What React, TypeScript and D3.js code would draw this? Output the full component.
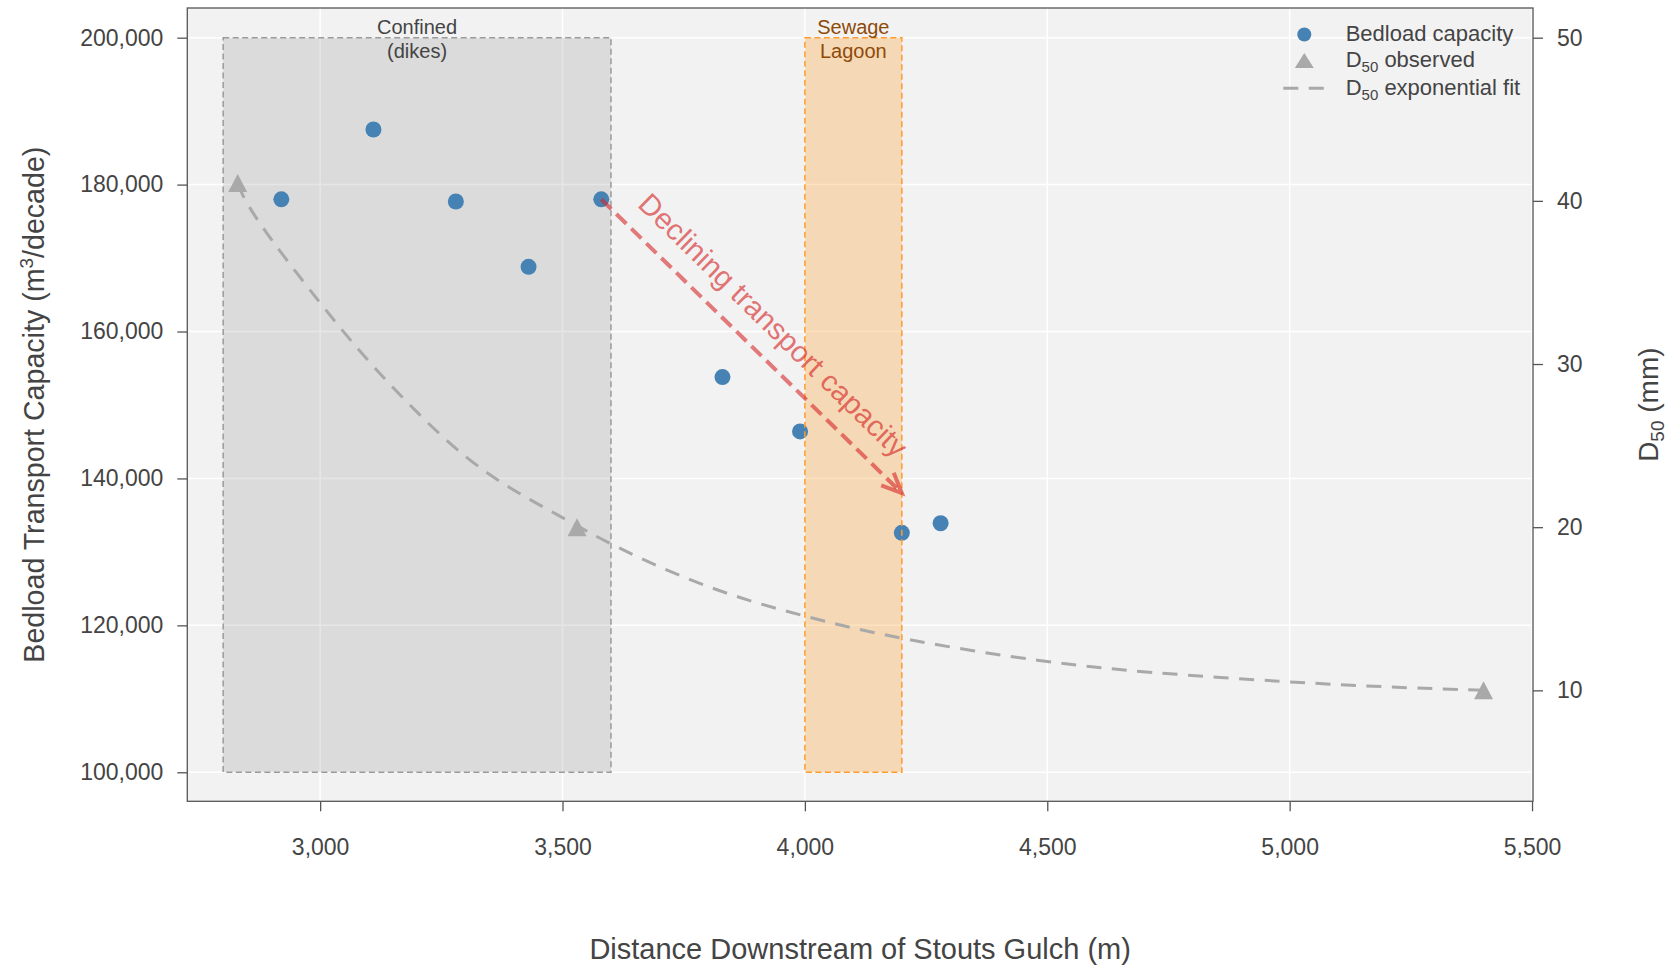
import React, { useRef, useEffect } from 'react';
import * as d3 from 'd3';

const WIDTH = 1673;
const HEIGHT = 971;
const FONT = '"Liberation Sans", Arial, Helvetica, sans-serif';

// bedload transport capacity (m3/decade) vs distance downstream (m)
const bedloadDistance = [2920, 3110, 3280, 3430, 3580, 3830, 3990, 4200, 4280];
const bedloadCapacity = [178000, 187500, 177700, 168800, 178000, 153800, 146400, 132600, 133900];

// observed D50 (mm)
const d50Distance = [2830, 3530, 5400];
const d50Observed = [41.1, 20.0, 10.0];

// exponential fit curve
const fitDistance = [2830, 2860, 3000, 3100, 3200, 3300, 3400, 3500, 3600, 3800, 4000, 4200, 4500, 4700, 5000, 5200, 5400];
const fitD50 = [41.0, 39.1, 33.7, 30.1, 27.0, 24.2, 22.2, 20.6, 18.9, 16.2, 14.5, 13.1, 11.7, 11.1, 10.5, 10.2, 10.0];

const xTicks = [3000, 3500, 4000, 4500, 5000, 5500];
const leftTicks = [100000, 120000, 140000, 160000, 180000, 200000];
const rightTicks = [10, 20, 30, 40, 50];

// reach zones
const confinedZone = { x0: 2800, x1: 3600, y0: 100000, y1: 200000, label: ['Confined', '(dikes)'] };
const lagoonZone = { x0: 4000, x1: 4200, y0: 100000, y1: 200000, label: ['Sewage', 'Lagoon'] };

// trend annotation
const trendFrom = { x: 3580, y: 178000 };
const trendTo = { x: 4200, y: 138000 };
const trendLabel = { x: 3935, y: 160900, text: 'Declining transport capacity' };

export default function App() {
  const svgRef = useRef<SVGSVGElement>(null);

  useEffect(() => {
    document.body.style.margin = '0';
    const svg = d3.select(svgRef.current);
    svg.selectAll('*').remove();

    const left = 187.3;
    const right = 1533;
    const top = 8;
    const bottom = 801.3;

    const x = d3.scaleLinear().domain([2726, 5502]).range([left, right]);
    const yL = d3.scaleLinear().domain([96050, 204040]).range([bottom, top]);
    const yR = d3.scaleLinear().domain([3.2, 51.82]).range([bottom, top]);

    const textColor = '#444';
    const axisColor = '#555';

    // plot background
    svg
      .append('rect')
      .attr('x', left)
      .attr('y', top)
      .attr('width', right - left)
      .attr('height', bottom - top)
      .attr('fill', '#f2f2f2');

    // grid
    const grid = svg.append('g').attr('stroke', '#fff').attr('stroke-width', 1.5);
    grid
      .selectAll('line.v')
      .data(xTicks)
      .join('line')
      .attr('x1', (d) => x(d))
      .attr('x2', (d) => x(d))
      .attr('y1', top)
      .attr('y2', bottom);
    grid
      .selectAll('line.h')
      .data(leftTicks)
      .join('line')
      .attr('class', 'h')
      .attr('x1', left)
      .attr('x2', right)
      .attr('y1', (d) => yL(d))
      .attr('y2', (d) => yL(d));

    // zone fills
    svg
      .append('rect')
      .attr('x', x(confinedZone.x0))
      .attr('y', yL(confinedZone.y1))
      .attr('width', x(confinedZone.x1) - x(confinedZone.x0))
      .attr('height', yL(confinedZone.y0) - yL(confinedZone.y1))
      .attr('fill', 'gray')
      .attr('fill-opacity', 0.2);
    svg
      .append('rect')
      .attr('x', x(lagoonZone.x0))
      .attr('y', yL(lagoonZone.y1))
      .attr('width', x(lagoonZone.x1) - x(lagoonZone.x0))
      .attr('height', yL(lagoonZone.y0) - yL(lagoonZone.y1))
      .attr('fill', 'darkorange')
      .attr('fill-opacity', 0.25);

    // D50 fit
    const fitLine = d3
      .line<number>()
      .x((d, i) => x(fitDistance[i]))
      .y((d) => yR(d))
      .curve(d3.curveBasis);
    svg
      .append('path')
      .attr('d', fitLine(fitD50))
      .attr('fill', 'none')
      .attr('stroke', '#a9a9a9')
      .attr('stroke-width', 3)
      .attr('stroke-dasharray', '15,10.5');

    // D50 observed
    const tri = 'M0,-9L9.5,9L-9.5,9Z';
    svg
      .append('g')
      .selectAll('path')
      .data(d50Observed)
      .join('path')
      .attr('d', tri)
      .attr('transform', (d, i) => `translate(${x(d50Distance[i])},${yR(d)})`)
      .attr('fill', '#a9a9a9');

    // bedload points
    svg
      .append('g')
      .selectAll('circle')
      .data(bedloadCapacity)
      .join('circle')
      .attr('cx', (d, i) => x(bedloadDistance[i]))
      .attr('cy', (d) => yL(d))
      .attr('r', 8)
      .attr('fill', '#4682b4');

    // zone borders
    svg
      .append('rect')
      .attr('x', x(confinedZone.x0))
      .attr('y', yL(confinedZone.y1))
      .attr('width', x(confinedZone.x1) - x(confinedZone.x0))
      .attr('height', yL(confinedZone.y0) - yL(confinedZone.y1))
      .attr('fill', 'none')
      .attr('stroke', '#9a9a9a')
      .attr('stroke-width', 1.5)
      .attr('stroke-dasharray', '6,3.5');
    svg
      .append('rect')
      .attr('x', x(lagoonZone.x0))
      .attr('y', yL(lagoonZone.y1))
      .attr('width', x(lagoonZone.x1) - x(lagoonZone.x0))
      .attr('height', yL(lagoonZone.y0) - yL(lagoonZone.y1))
      .attr('fill', 'none')
      .attr('stroke', '#ff9a2e')
      .attr('stroke-width', 1.5)
      .attr('stroke-dasharray', '6,3.5');

    // zone labels
    const zoneText = (zone: typeof confinedZone, color: string) => {
      const cx = x((zone.x0 + zone.x1) / 2);
      const y0 = yL(zone.y1);
      zone.label.forEach((t, i) => {
        svg
          .append('text')
          .attr('x', cx)
          .attr('y', y0 - 4 + i * 24.5)
          .attr('text-anchor', 'middle')
          .attr('font-size', 20)
          .attr('fill', color)
          .text(t);
      });
    };
    zoneText(confinedZone, textColor);
    zoneText(lagoonZone, '#8f4a08');

    // trend arrow
    const ax1 = x(trendFrom.x);
    const ay1 = yL(trendFrom.y);
    const ax2 = x(trendTo.x);
    const ay2 = yL(trendTo.y);
    const ang = Math.atan2(ay2 - ay1, ax2 - ax1);
    const red = '#d62728';
    svg
      .append('line')
      .attr('x1', ax1)
      .attr('y1', ay1)
      .attr('x2', ax2)
      .attr('y2', ay2)
      .attr('stroke', red)
      .attr('stroke-opacity', 0.6)
      .attr('stroke-width', 4)
      .attr('stroke-dasharray', '14,7');
    const headLen = 22;
    const spread = (24 * Math.PI) / 180;
    const head = [
      [ax2 - headLen * Math.cos(ang - spread), ay2 - headLen * Math.sin(ang - spread)],
      [ax2, ay2],
      [ax2 - headLen * Math.cos(ang + spread), ay2 - headLen * Math.sin(ang + spread)],
    ];
    svg
      .append('path')
      .attr('d', d3.line()(head as [number, number][]))
      .attr('fill', 'none')
      .attr('stroke', red)
      .attr('stroke-opacity', 0.6)
      .attr('stroke-width', 4);
    svg
      .append('text')
      .attr('transform', `translate(${x(trendLabel.x)},${yL(trendLabel.y)}) rotate(${(ang * 180) / Math.PI})`)
      .attr('text-anchor', 'middle')
      .attr('dominant-baseline', 'central')
      .attr('font-size', 29.5)
      .attr('fill', red)
      .attr('fill-opacity', 0.65)
      .text(trendLabel.text);

    // axes
    const styleAxis = (g: d3.Selection<SVGGElement, unknown, null, undefined>) => {
      g.select('.domain').remove();
      g.selectAll('line').attr('stroke', axisColor).attr('stroke-width', 1.3);
      g.selectAll('text').attr('fill', textColor).attr('font-size', 23).attr('font-family', FONT);
    };
    svg
      .append('g')
      .attr('transform', `translate(0,${bottom})`)
      .call(d3.axisBottom(x).tickValues(xTicks).tickFormat(d3.format(',')).tickSize(10).tickPadding(27))
      .call(styleAxis);
    svg
      .append('g')
      .attr('transform', `translate(${left},0)`)
      .call(d3.axisLeft(yL).tickValues(leftTicks).tickFormat(d3.format(',')).tickSize(10).tickPadding(14))
      .call(styleAxis);
    svg
      .append('g')
      .attr('transform', `translate(${right},0)`)
      .call(d3.axisRight(yR).tickValues(rightTicks).tickSize(10).tickPadding(14))
      .call(styleAxis);

    // frame
    svg
      .append('rect')
      .attr('x', left)
      .attr('y', top)
      .attr('width', right - left)
      .attr('height', bottom - top)
      .attr('fill', 'none')
      .attr('stroke', axisColor)
      .attr('stroke-width', 1.3);

    // axis titles
    svg
      .append('text')
      .attr('x', (left + right) / 2)
      .attr('y', 959)
      .attr('text-anchor', 'middle')
      .attr('font-size', 29)
      .attr('fill', textColor)
      .text('Distance Downstream of Stouts Gulch (m)');

    const yTitle = svg
      .append('text')
      .attr('transform', `translate(44,${(top + bottom) / 2}) rotate(-90)`)
      .attr('text-anchor', 'middle')
      .attr('font-size', 28.6)
      .attr('fill', textColor);
    yTitle.append('tspan').text('Bedload Transport Capacity (m');
    yTitle.append('tspan').attr('font-size', 19).attr('dy', -11).text('3');
    yTitle.append('tspan').attr('dy', 11).text('/decade)');

    const rTitle = svg
      .append('text')
      .attr('transform', `translate(1658,${(top + bottom) / 2}) rotate(-90)`)
      .attr('text-anchor', 'middle')
      .attr('font-size', 28)
      .attr('fill', textColor);
    rTitle.append('tspan').text('D');
    rTitle.append('tspan').attr('font-size', 19).attr('dy', 6).text('50');
    rTitle.append('tspan').attr('dy', -6).text(' (mm)');

    // legend
    const lg = svg.append('g').attr('font-size', 22).attr('fill', textColor);
    const mx = 1304.3;
    const tx = 1345.7;
    lg.append('circle').attr('cx', mx).attr('cy', 34.5).attr('r', 7).attr('fill', '#4682b4');
    lg.append('path')
      .attr('d', 'M0,-7.5L9.5,7.5L-9.5,7.5Z')
      .attr('transform', `translate(${mx},60.5)`)
      .attr('fill', '#a9a9a9');
    lg.append('line')
      .attr('x1', mx - 21)
      .attr('x2', mx + 21)
      .attr('y1', 88.3)
      .attr('y2', 88.3)
      .attr('stroke', '#a9a9a9')
      .attr('stroke-width', 3)
      .attr('stroke-dasharray', '15,10.5');
    lg.append('text').attr('x', tx).attr('y', 40.7).text('Bedload capacity');
    const l2 = lg.append('text').attr('x', tx).attr('y', 66.7);
    l2.append('tspan').text('D');
    l2.append('tspan').attr('font-size', 15).attr('dy', 5).text('50');
    l2.append('tspan').attr('dy', -5).text(' observed');
    const l3 = lg.append('text').attr('x', tx).attr('y', 95);
    l3.append('tspan').text('D');
    l3.append('tspan').attr('font-size', 15).attr('dy', 5).text('50');
    l3.append('tspan').attr('dy', -5).text(' exponential fit');
  }, []);

  return (
    <svg
      ref={svgRef}
      width={WIDTH}
      height={HEIGHT}
      style={{ display: 'block', fontFamily: FONT, background: '#fff' }}
    />
  );
}
